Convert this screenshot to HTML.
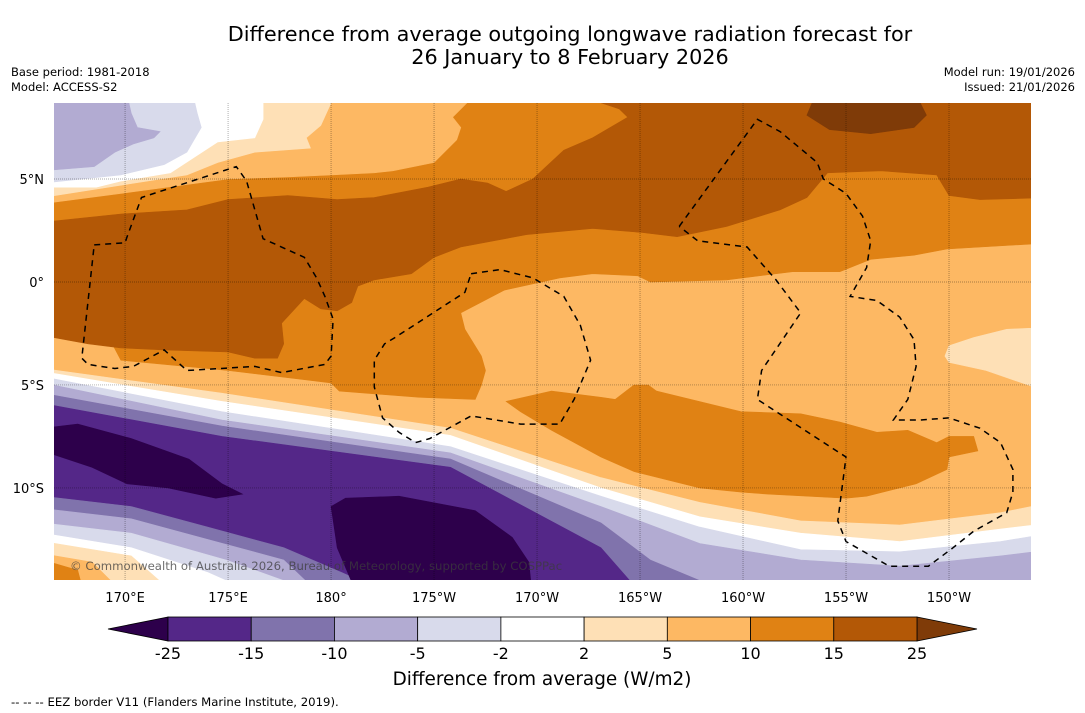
<!DOCTYPE html>
<html><head><meta charset="utf-8"><style>
html,body{margin:0;padding:0;background:#fff;}
svg{display:block;font-family:"DejaVu Sans","Liberation Sans",sans-serif;}
</style></head><body>
<svg id="chart" width="1085" height="713" viewBox="0 0 1085 713">
<text x="570" y="41" font-size="20.8" text-anchor="middle">Difference from average outgoing longwave radiation forecast for</text>
<text x="570" y="64" font-size="20.8" text-anchor="middle">26 January to 8 February 2026</text>
<text x="11" y="76" font-size="11.5">Base period: 1981-2018</text>
<text x="11" y="91" font-size="11.5">Model: ACCESS-S2</text>
<text x="1075" y="76" font-size="11.5" text-anchor="end">Model run: 19/01/2026</text>
<text x="1075" y="91" font-size="11.5" text-anchor="end">Issued: 21/01/2026</text>
<defs><clipPath id="mapclip"><rect x="54" y="103" width="977" height="477"/></clipPath></defs>
<g id="map" clip-path="url(#mapclip)"></g>
<g id="axes"></g>
<g id="cbar"></g>
<text x="542" y="685" font-size="18.4" text-anchor="middle">Difference from average (W/m2)</text>
<text x="11" y="706" font-size="11.7">--  --  -- EEZ border V11 (Flanders Marine Institute, 2019).</text>
</svg>
<script>
// map extent (degrees; longitudes 0-360 east)
const lonMin = 166.55, lonMax = 213.98, latMax = 8.69, latMin = -14.47;
const lonTicks = [170,175,180,185,190,195,200,205,210];
const lonTickLabels = ["170°E","175°E","180°","175°W","170°W","165°W","160°W","155°W","150°W"];
const latTicks = [5,0,-5,-10];
const latTickLabels = ["5°N","0°","5°S","10°S"];
const cbLevels = [-25,-15,-10,-5,-2,2,5,10,15,25];
const cbColors = ["#542788","#8073ac","#b2abd2","#d8daeb","#ffffff","#fee0b6","#fdb863","#e08214","#b35806"];
const cbUnder = "#2d004b", cbOver = "#7f3b08";

// filled contour regions [color, [lon,lat]...] in painter's order
const regionBase = ["#fdb863",[[165,10],[216,10],[216,-16],[165,-16]]];
const regionNorthOrange = ["#e08214",[[166,3.4],[169.8,-3.8],[175.0,-4.3],[180.0,-4.9],[180.4,-5.3],[184.3,-5.6],[187.0,-5.7],[187.3,-5.0],[187.5,-4.3],[187.3,-3.6],[186.5,-2.3],[186.3,-1.5],[188.4,-0.4],[191.1,0.2],[192.7,0.4],[194.9,0.3],[195.5,0.0],[199.2,0.1],[202.4,0.5],[204.7,0.5],[206.2,1.1],[208.3,1.3],[209.9,1.6],[215,1.9],[215,9.5],[166,9.5]]];
const regionTopLeft5 = ["#fdb863",[[166,3.8],[169.8,4.3],[175.0,5.0],[177.9,5.1],[180.0,5.2],[182.1,5.3],[183.0,5.4],[185.0,5.8],[186.1,6.9],[186.3,7.5],[185.9,8.0],[186.6,8.7],[186.6,9.5],[166,9.5]]];
const regionTopLeft2 = ["#fee0b6",[[166,4.1],[169.8,4.7],[173.0,5.2],[174.5,5.8],[176.3,6.3],[179.0,6.5],[178.8,7.0],[179.5,7.6],[180.0,8.7],[180.0,9.5],[166,9.5]]];
const regionTopLeftW = ["#ffffff",[[166,4.6],[168.6,4.6],[169.8,4.9],[172.2,5.3],[174.5,6.8],[176.3,7.0],[176.7,7.9],[176.7,9.5],[166,9.5]]];
const regionTopLeftM2 = ["#d8daeb",[[166,4.8],[169.8,5.2],[171.9,5.7],[173.0,6.3],[173.7,7.5],[173.5,8.2],[173.2,9.5],[166,9.5]]];
const regionTopLeftM5 = ["#b2abd2",[[166,5.4],[168.5,5.6],[169.5,6.3],[170.4,6.7],[171.4,7.0],[171.7,7.3],[170.6,7.5],[170.3,8.2],[170.0,9.5],[166,9.5]]];
const regionBrown = ["#b35806",[[166,2.9],[169.8,3.3],[173.0,3.5],[175.0,4.0],[177.9,4.2],[180.3,4.0],[182.1,4.1],[184.7,4.6],[186.3,5.0],[187.6,4.8],[188.5,4.4],[189.8,5.0],[191.3,6.4],[192.7,7.0],[194.4,8.0],[194.0,8.4],[193.1,8.7],[193.1,9.5],[215,9.5],[215,4.1],[211.5,4.0],[210.0,4.2],[209.4,5.2],[206.7,5.4],[204.1,5.3],[203.1,4.1],[201.8,3.5],[199.2,2.7],[196.8,2.2],[195.1,2.4],[192.7,2.6],[189.5,2.3],[186.3,1.7],[185.0,1.2],[183.9,0.4],[182.1,0.1],[181.3,-0.2],[181.0,-1.0],[180.3,-1.4],[179.5,-1.3],[178.7,-0.8],[177.6,-2.0],[177.7,-3.0],[177.4,-3.7],[176.3,-3.7],[175.0,-3.4],[171.9,-3.3],[169.8,-3.2],[168.2,-3.0],[166,-2.6]]];
const regionOver25 = ["#7f3b08",[[203.1,8.1],[203.7,9.5],[208.2,9.5],[208.9,8.1],[208.3,7.5],[206.2,7.2],[204.2,7.4]]];
const regionEast2 = ["#fee0b6",[[209.8,-3.6],[210.0,-3.1],[211.2,-2.7],[212.8,-2.3],[215,-2.2],[215,-5.4],[211.8,-4.3],[210.0,-3.9]]];
const regionSouthOrange = ["#e08214",[[188.5,-5.8],[190.7,-5.3],[193.1,-5.6],[193.8,-5.7],[194.7,-5.0],[195.4,-5.0],[195.8,-5.3],[199.9,-6.3],[202.8,-6.4],[204.7,-6.8],[206.5,-7.3],[208.0,-7.2],[209.4,-7.8],[210.0,-7.5],[211.2,-7.5],[211.4,-8.2],[210.0,-8.5],[209.9,-9.1],[208.4,-9.8],[206.0,-10.4],[205.0,-10.5],[201.2,-10.3],[199.9,-10.2],[197.9,-10.0],[194.7,-9.2],[193.1,-8.5],[190.7,-7.2],[189.2,-6.3]]];
// southern bands: upper boundary, filled to bottom
const bandLons = [166,174.7,185.8,193.1,197.9,202.8,207.6,212.5,215];
const bandS2 = ["#fee0b6",[-4.2,-5.4,-7.1,-9.5,-10.7,-11.6,-11.8,-11.2,-10.7]];
const bandSW = ["#ffffff",[-4.35,-5.8,-7.45,-10.0,-11.4,-12.2,-12.6,-12.0,-11.7]];
const bandSM2 = ["#d8daeb",[-4.6,-6.3,-8.0,-10.4,-11.9,-13.0,-13.1,-12.6,-12.2]];
const bandSM5 = ["#b2abd2",[-4.9,-6.7,-8.3,-10.9,-12.7,-13.5,-13.8,-13.3,-13.0]];
const regionSM10 = ["#8073ac",[[166,-5.4],[174.7,-7.0],[185.8,-8.6],[193.1,-11.7],[195.5,-13.5],[197.9,-14.5],[200,-15.5],[166,-15.5]]];
const regionSM15 = ["#542788",[[166,-5.9],[174.7,-7.5],[185.8,-9.0],[193.1,-12.9],[194.5,-14.5],[194.8,-15.5],[166,-15.5]]];
const regionBL10 = ["#8073ac",[[166,-10.4],[170.3,-10.9],[174.0,-11.9],[177.7,-12.9],[180.5,-14.1],[181.4,-14.5],[181.6,-15.5],[166,-15.5]]];
const regionBL5 = ["#b2abd2",[[166,-11.0],[170.3,-11.5],[174.0,-12.5],[177.7,-13.5],[179.8,-15.5],[166,-15.5]]];
const regionBLM2 = ["#d8daeb",[[166,-11.7],[170.3,-12.2],[174.9,-13.5],[177.7,-14.5],[177.9,-15.5],[166,-15.5]]];
const regionBLW = ["#ffffff",[[166,-12.2],[170.3,-12.9],[174.0,-14.1],[174.9,-14.5],[175.1,-15.5],[166,-15.5]]];
const regionBL2 = ["#fee0b6",[[166,-12.6],[170.3,-13.3],[172.8,-15.5],[166,-15.5]]];
const regionBL5p = ["#fdb863",[[166,-13.2],[168.4,-13.6],[170.3,-15.5],[166,-15.5]]];
const regionBL10p = ["#e08214",[[166,-13.5],[167.7,-14.0],[168.1,-15.5],[166,-15.5]]];
const regionMin1 = ["#2d004b",[[166,-8.2],[166,-7.1],[167.7,-6.9],[170.3,-7.6],[173.1,-8.6],[174.7,-9.8],[175.7,-10.3],[174.4,-10.5],[172.1,-10.0],[170.1,-9.8],[168.4,-9.0]]];
const regionMin2 = ["#2d004b",[[180.0,-10.9],[180.7,-10.5],[183.3,-10.4],[187.0,-11.1],[188.8,-12.4],[189.6,-13.6],[189.8,-15.5],[181.4,-15.5],[180.3,-12.9]]];

// EEZ borders
const eezTuvalu = [[168.5,1.8],[170.0,1.9],[170.1,2.2],[170.8,4.1],[175.4,5.6],[175.9,4.9],[176.7,2.1],[178.7,1.2],[179.3,0.2],[179.7,-0.7],[180.1,-1.8],[180.0,-3.6],[179.7,-4.0],[177.6,-4.4],[176.3,-4.1],[173.0,-4.3],[171.9,-3.3],[170.4,-4.1],[169.5,-4.2],[168.2,-4.0],[167.9,-3.7],[168.5,1.8]];
const eezPhoenix = [[186.8,0.4],[188.2,0.6],[189.8,0.2],[191.3,-0.7],[192.1,-2.1],[192.6,-3.8],[191.8,-5.7],[191.1,-6.9],[189.2,-6.9],[186.8,-6.5],[184.8,-7.6],[184.1,-7.8],[183.3,-7.3],[182.5,-6.6],[182.1,-5.1],[182.1,-3.8],[182.6,-3.0],[183.1,-2.7],[186.5,-0.5],[186.8,0.4]];
const eezLine = [[196.9,2.7],[200.7,7.9],[201.8,7.3],[203.6,5.8],[203.9,5.0],[205.0,4.3],[205.8,3.2],[206.2,2.0],[206.0,0.7],[205.2,-0.7],[206.5,-0.9],[207.6,-1.7],[208.3,-2.8],[208.4,-4.1],[208.0,-5.7],[207.3,-6.7],[208.6,-6.7],[210.0,-6.6],[211.5,-7.1],[212.5,-7.8],[213.1,-9.1],[213.1,-10.2],[212.8,-11.2],[211.2,-12.1],[210.2,-12.9],[209.0,-13.8],[207.1,-13.8],[205.0,-12.6],[204.6,-11.6],[205.0,-8.5],[200.7,-5.7],[200.9,-4.3],[202.8,-1.5],[201.6,0.1],[200.2,1.7],[197.8,2.0],[196.9,2.7]];

const NS = "http://www.w3.org/2000/svg";
const X = lon => 54 + (lon - lonMin) / (lonMax - lonMin) * 977;
const Y = lat => 103 + (latMax - lat) / (latMax - latMin) * 477;
const map = document.getElementById('map');
const axes = document.getElementById('axes');
const cbar = document.getElementById('cbar');
function mk(tag, attrs, parent){ const e=document.createElementNS(NS,tag); for(const k in attrs) e.setAttribute(k,attrs[k]); parent.appendChild(e); return e; }
const pts = arr => arr.map(p => X(p[0]).toFixed(1)+','+Y(p[1]).toFixed(1)).join(' ');

function drawRegion(r, name){
  const e = mk('polygon',{points:pts(r[1]), fill:r[0], stroke:r[0], 'stroke-width':0.6}, map);
  
  
}
function drawBand(b, name){
  const p = bandLons.map((l,i)=>[l,b[1][i]]).concat([[215,-15.5],[166,-15.5]]);
  drawRegion([b[0],p], name);
}
drawRegion(regionBase,'contour-5-10-base');
drawRegion(regionNorthOrange,'contour-10-15-north');
drawRegion(regionTopLeft5,'contour-5-10-northwest');
drawRegion(regionTopLeft2,'contour-2-5-northwest');
drawRegion(regionTopLeftW,'contour-neutral-northwest');
drawRegion(regionTopLeftM2,'contour-minus2-5-northwest');
drawRegion(regionTopLeftM5,'contour-minus5-10-northwest');
drawRegion(regionBrown,'contour-15-25-band');
drawRegion(regionOver25,'contour-over-25');
drawRegion(regionEast2,'contour-2-5-east');
drawRegion(regionSouthOrange,'contour-10-15-south');
drawBand(bandS2,'contour-2-5-south');
drawBand(bandSW,'contour-neutral-south');
drawBand(bandSM2,'contour-minus2-5-south');
drawBand(bandSM5,'contour-minus5-10-south');
drawRegion(regionSM10,'contour-minus10-15-south');
drawRegion(regionSM15,'contour-minus15-25-south');
drawRegion(regionBL10,'contour-minus10-15-southwest');
drawRegion(regionBL5,'contour-minus5-10-southwest');
drawRegion(regionBLM2,'contour-minus2-5-southwest');
drawRegion(regionBLW,'contour-neutral-southwest');
drawRegion(regionBL2,'contour-2-5-southwest');
drawRegion(regionBL5p,'contour-5-10-southwest');
drawRegion(regionBL10p,'contour-10-15-southwest');
drawRegion(regionMin1,'contour-under-minus25-west');
drawRegion(regionMin2,'contour-under-minus25-central');

// gridlines
lonTicks.forEach(l=>{
  const e = mk('line',{x1:X(l),x2:X(l),y1:103,y2:580,stroke:'rgba(0,0,0,0.45)','stroke-width':0.7,'stroke-dasharray':'1,1'}, map);
  
  
});
latTicks.forEach(l=>{
  const e = mk('line',{x1:54,x2:1031,y1:Y(l),y2:Y(l),stroke:'rgba(0,0,0,0.45)','stroke-width':0.7,'stroke-dasharray':'1,1'}, map);
  
  
});
// EEZ
[[eezTuvalu,'eez-border-tuvalu'],[eezPhoenix,'eez-border-phoenix'],[eezLine,'eez-border-line-islands']].forEach(([a,n])=>{
  const e = mk('polyline',{points:pts(a),fill:'none',stroke:'#000','stroke-width':1.5,'stroke-dasharray':'6,5'}, map);
  
  
});
// copyright
const cp = mk('text',{x:70,y:570,'font-size':11.7,fill:'rgba(60,60,60,0.75)'}, map);
cp.textContent = '© Commonwealth of Australia 2026, Bureau of Meteorology, supported by COSPPac';



// tick labels
lonTicks.forEach((l,i)=>{
  const t = mk('text',{x:X(l),y:602,'font-size':13,'text-anchor':'middle'}, axes);
  t.textContent = lonTickLabels[i];
  
  
});
latTicks.forEach((l,i)=>{
  const t = mk('text',{x:44,y:Y(l)+5,'font-size':13,'text-anchor':'end'}, axes);
  t.textContent = latTickLabels[i];
  
  
});

// colorbar
const cbX0 = 168, cbX1 = 917, cbY = 617, cbH = 24;
const n = cbLevels.length - 1, w = (cbX1 - cbX0) / n;
const tl = mk('polygon',{points:`${cbX0},${cbY} ${cbX0-60},${cbY+cbH/2} ${cbX0},${cbY+cbH}`,fill:cbUnder,stroke:'#000','stroke-width':0.8}, cbar);


const tr = mk('polygon',{points:`${cbX1},${cbY} ${cbX1+60},${cbY+cbH/2} ${cbX1},${cbY+cbH}`,fill:cbOver,stroke:'#000','stroke-width':0.8}, cbar);


cbColors.forEach((c,i)=>{
  const r = mk('rect',{x:cbX0+i*w,y:cbY,width:w,height:cbH,fill:c,stroke:'#000','stroke-width':0.8}, cbar);
  
  
});
cbLevels.forEach((v,i)=>{
  const t = mk('text',{x:cbX0+i*w,y:659,'font-size':16,'text-anchor':'middle'}, cbar);
  t.textContent = String(v);
  
  
});
</script>
</body></html>
